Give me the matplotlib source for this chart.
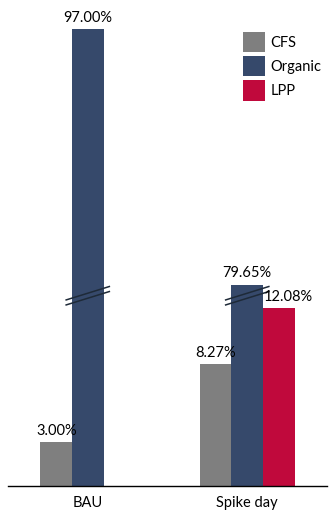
import numpy as np
import matplotlib
matplotlib.use("Agg")
import matplotlib.pyplot as plt

plt.rcParams['font.family'] = ['Lato', 'DejaVu Sans']

# data (percent)
categories = ['BAU', 'Spike day']
series = ['CFS', 'Organic', 'LPP']
cfs = [3.00, 8.27]
organic = [97.00, 79.65]
lpp = [np.nan, 12.08]

colors = ['#7f7f7f', '#36496b', '#c0093c']

# broken axis: values above break_lo are drawn shifted down by the gap
break_lo = 12.9
break_hi = 78.9


def shown(v):
    v = np.asarray(v, dtype=float)
    return np.where(v > break_lo, v - (break_hi - break_lo), v)


fig = plt.figure(figsize=(3.36, 5.19), dpi=100)
ax = fig.add_axes([8 / 336, 33 / 519, 319 / 336, 486 / 519])

x = np.arange(len(categories))
w = 0.1975
label_dx = {('LPP', 1): 7}  # points, nudge to keep labels apart

for i, (name, vals) in enumerate(zip(series, [cfs, organic, lpp])):
    pos = x + (i - 1) * w
    h = shown(vals)
    ax.bar(pos, h, width=w, color=colors[i], label=name, linewidth=0)
    for j, (p, v, hh) in enumerate(zip(pos, vals, h)):
        if np.isnan(v):
            continue
        ax.annotate(f'{v:.2f}%', (p, hh), xytext=(label_dx.get((name, j), 0), 3),
                    textcoords='offset points', ha='center', va='bottom',
                    fontsize=10.5, color='black')
        if v > break_lo:
            # break marks
            for d in (-0.17, 0.17):
                ax.plot([p - 0.14, p + 0.14], [break_lo - 0.47 + d, break_lo + 0.47 + d],
                        color='#1e2a38', lw=1.1, solid_capstyle='butt', zorder=3)

ax.set_xlim(-0.5, 1.5)
ax.set_ylim(0, 486 / 14.75)
ax.set_xticks(x)
ax.set_xticklabels(categories, fontsize=10.5)
ax.tick_params(axis='x', length=0, pad=7)
ax.set_yticks([])
for s in ['left', 'right', 'top']:
    ax.spines[s].set_visible(False)
ax.spines['bottom'].set_color('black')
ax.spines['bottom'].set_linewidth(1)

ax.legend(loc='upper left', bbox_to_anchor=(243 / 336, 1 - 32 / 519),
          bbox_transform=fig.transFigure, frameon=False, fontsize=10.5,
          handlelength=1.5, handleheight=1.75, handletextpad=0.4,
          labelspacing=0.28, borderpad=0, borderaxespad=0)

fig.savefig('out.png', dpi=100)
